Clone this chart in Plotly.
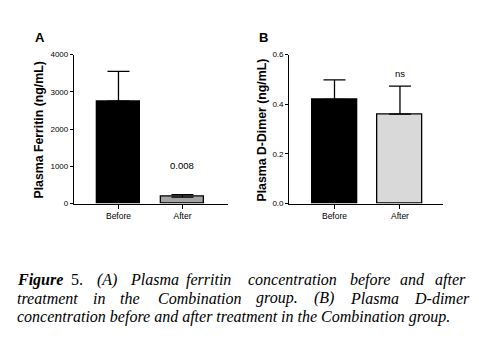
import plotly.graph_objects as go

# Data
groups = ["Before", "After"]
ferritin_mean = [2750, 175]
ferritin_sem = [800, 65]
ddimer_mean = [0.42, 0.36]
ddimer_sem = [0.078, 0.113]
ferritin_ticks = [0, 1000, 2000, 3000, 4000]
ddimer_ticks = [0.0, 0.2, 0.4, 0.6]

W, H = 479, 340
sans = "Liberation Sans, Arial"
serif = "Liberation Serif, Times New Roman, serif"


def px_x(v):
    return v / W


def px_y(v):
    return 1 - v / H


fig = go.Figure()

fig.add_trace(go.Bar(
    x=groups, y=ferritin_mean, width=0.67,
    marker=dict(color=["#000000", "#a3a3a3"], line=dict(color="#000000", width=1.3)),
    error_y=dict(type="data", array=ferritin_sem, arrayminus=[0, 0], symmetric=False,
                 color="#000000", thickness=1.3, width=11),
    xaxis="x", yaxis="y", showlegend=False,
))
fig.add_trace(go.Bar(
    x=groups, y=ddimer_mean, width=0.69,
    marker=dict(color=["#000000", "#d9d9d9"], line=dict(color="#000000", width=1.3)),
    error_y=dict(type="data", array=ddimer_sem, arrayminus=[0, 0], symmetric=False,
                 color="#000000", thickness=1.3, width=11),
    xaxis="x2", yaxis="y2", showlegend=False,
))

line_common = dict(showgrid=False, zeroline=False, showline=True, linecolor="#000000",
                   linewidth=1.3, ticks="outside", tickwidth=1, tickcolor="#000000")
xfont = dict(family=sans, size=8.5, color="#000000")
yfont = dict(family=sans, size=8, color="#000000")

ybot, ytop = px_y(205), px_y(52)

fig.update_layout(
    width=W, height=H, margin=dict(l=0, r=0, t=0, b=0),
    paper_bgcolor="white", plot_bgcolor="white", bargap=0,
    xaxis=dict(domain=[px_x(74), px_x(228)], range=[-0.695, 1.711], anchor="y",
               ticklen=4, tickfont=xfont, **line_common),
    yaxis=dict(domain=[ybot, ytop], range=[0, 4000], anchor="x", ticklen=3, tickfont=yfont,
               tickvals=ferritin_ticks, ticktext=[str(t) for t in ferritin_ticks], **line_common),
    xaxis2=dict(domain=[px_x(289.3), px_x(443)], range=[-0.69, 1.657], anchor="y2",
                ticklen=4, tickfont=xfont, **line_common),
    yaxis2=dict(domain=[ybot, ytop], range=[0, 0.6], anchor="x2", ticklen=3, tickfont=yfont,
                tickvals=ddimer_ticks, ticktext=[f"{t:.1f}" for t in ddimer_ticks], **line_common),
)

ann = []
# Panel letters
for letter, xl in [("A", 33), ("B", 257)]:
    ann.append(dict(text=f"<b>{letter}</b>", x=px_x(xl), y=px_y(34), xref="paper", yref="paper",
                    xanchor="left", yanchor="middle", showarrow=False,
                    font=dict(family=sans, size=13, color="#000000")))

# Axis titles
for txt, xc in [("Plasma Ferritin (ng/mL)", 39), ("Plasma D-Dimer (ng/mL)", 262)]:
    ann.append(dict(text=f"<b>{txt}</b>", x=px_x(xc), y=px_y(130), xref="paper", yref="paper",
                    textangle=-90, showarrow=False, xanchor="center", yanchor="middle",
                    font=dict(family=sans, size=12.3, color="#000000")))

# Significance labels
ann.append(dict(text="0.008", x="After", y=ferritin_mean[1] + ferritin_sem[1], xref="x", yref="y",
                yshift=29, showarrow=False,
                font=dict(family=sans, size=9.5, color="#000000")))
ann.append(dict(text="ns", x="After", y=ddimer_mean[1] + ddimer_sem[1], xref="x2", yref="y2",
                yshift=13, showarrow=False,
                font=dict(family=sans, size=9.5, color="#000000")))

# Caption, justified word by word on the first two lines
line1 = [("<b><i>Figure</i></b>", 15), ("5.", 69), ("<i>(A)</i>", 95), ("<i>Plasma</i>", 128),
         ("<i>ferritin</i>", 184), ("<i>concentration</i>", 246), ("<i>before</i>", 348),
         ("<i>and</i>", 398), ("<i>after</i>", 433)]
line2 = [("treatment", 15), ("in", 91), ("the", 118), ("Combination", 156), ("group.", 254),
         ("(B)", 312), ("Plasma", 348), ("D-dimer", 412)]
line2 = [(f"<i>{w}</i>", x) for w, x in line2]
cap_font = dict(family=serif, size=16, color="#000000")
for words, yc in [(line1, 283), (line2, 302)]:
    for w, xl in words:
        ann.append(dict(text=w, x=px_x(xl), y=px_y(yc), xref="paper", yref="paper",
                        showarrow=False, xanchor="left", yanchor="middle", font=cap_font))
ann.append(dict(text="<i>concentration before and after treatment in the Combination group.</i>",
                x=px_x(15), y=px_y(321), xref="paper", yref="paper", showarrow=False,
                xanchor="left", yanchor="middle", font=cap_font))

fig.update_layout(annotations=ann)
fig.write_html("out.html")
